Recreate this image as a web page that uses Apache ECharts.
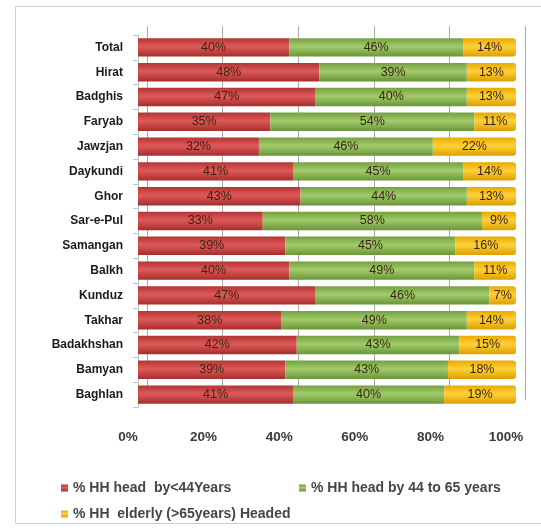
<!DOCTYPE html>
<html><head><meta charset="utf-8">
<script src="https://cdn.jsdelivr.net/npm/echarts@6/dist/echarts.min.js"></script>
<style>html,body{margin:0;padding:0;background:#fff}#c{width:541px;height:531px}</style>
</head><body><div id="c"></div>
<script>
const categories = ["Total","Hirat","Badghis","Faryab","Jawzjan","Daykundi","Ghor","Sar-e-Pul","Samangan","Balkh","Kunduz","Takhar","Badakhshan","Bamyan","Baghlan"];
const under44 = [40,48,47,35,32,41,43,33,39,40,47,38,42,39,41];
const from44to65 = [46,39,40,54,46,45,44,58,45,49,46,49,43,43,40];
const elderly = [14,13,13,11,22,14,13,9,16,11,7,14,15,18,19];
const seriesNames = ["% HH head  by<44Years","% HH head by 44 to 65 years","% HH  elderly (>65years) Headed"];
const tickLabels = ["0%","20%","40%","60%","80%","100%"];

const font = "'Liberation Sans', Arial, sans-serif";
function grad(edge, mid, edge2){
  return new echarts.graphic.LinearGradient(0,0,0,1,[
    {offset:0,color:edge},{offset:0.45,color:mid},{offset:1,color:edge2}]);
}
const cats = categories.slice().reverse();
const rev = a => a.slice().reverse();
const lbl = {show:true,position:'inside',formatter:'{c}%',color:'#3a2414',fontSize:12.5,fontFamily:font};
const legText = {color:'#44444f',fontSize:14,fontWeight:'bold',fontFamily:font};

const chart = echarts.init(document.getElementById('c'),null,{renderer:'canvas'});
chart.setOption({
  backgroundColor:'#fff',
  animation:false,
  graphic:[{type:'rect',shape:{x:15.5,y:6.5,width:540,height:517},style:{fill:'none',stroke:'#d0d0d0',lineWidth:1},z:-10}],
  grid:[
    {left:147,right:16,top:26,bottom:131},   // back wall
    {left:138,right:25,top:35,bottom:124},   // bars
    {left:128,right:35,top:35,bottom:113}    // axis labels
  ],
  xAxis:[
    {gridIndex:0,type:'value',min:0,max:100,interval:20,axisLabel:{show:false},axisLine:{show:false},axisTick:{show:false},
     splitLine:{show:true,lineStyle:{color:'#a8a8a8',width:1}}},
    {gridIndex:1,type:'value',min:0,max:100,interval:20,axisLabel:{show:false},axisLine:{show:false},axisTick:{show:false},splitLine:{show:false}},
    {gridIndex:2,type:'value',min:0,max:100,interval:20,axisLine:{show:false},axisTick:{show:false},splitLine:{show:false},
     axisLabel:{color:'#3a3a3a',fontSize:13.5,fontWeight:'bold',fontFamily:font,margin:12,formatter:(v,i)=>tickLabels[i]}}
  ],
  yAxis:[
    {gridIndex:0,type:'category',data:cats,show:false},
    {gridIndex:1,type:'category',data:cats,offset:5,
     axisLine:{show:true,lineStyle:{color:'#b8c8c8'}},axisTick:{show:true,lineStyle:{color:'#b8c8c8'}},
     axisLabel:{color:'#1a1a1a',fontSize:12,fontWeight:'bold',fontFamily:font,margin:10}},
    {gridIndex:2,type:'category',data:cats,show:false}
  ],
  legend:[
    {data:[seriesNames[0]],left:56,top:476,icon:'rect',itemWidth:7,itemHeight:7,itemGap:0,textStyle:legText},
    {data:[seriesNames[1]],left:294,top:476,icon:'rect',itemWidth:7,itemHeight:7,itemGap:0,textStyle:legText},
    {data:[seriesNames[2]],left:56,top:502,icon:'rect',itemWidth:7,itemHeight:7,itemGap:0,textStyle:legText}
  ],
  series:[
    {name:seriesNames[0],type:'bar',stack:'s',xAxisIndex:1,yAxisIndex:1,barWidth:'74%',data:rev(under44),label:lbl,
     itemStyle:{color:grad('#b33535','#de5a58','#a52e2e')}},
    {name:seriesNames[1],type:'bar',stack:'s',xAxisIndex:1,yAxisIndex:1,barWidth:'74%',data:rev(from44to65),label:lbl,
     itemStyle:{color:grad('#74a040','#a2cc6c','#6a9638')}},
    {name:seriesNames[2],type:'bar',stack:'s',xAxisIndex:1,yAxisIndex:1,barWidth:'74%',data:rev(elderly),label:lbl,
     itemStyle:{color:grad('#e8aa00','#ffd03a','#dca000'),borderRadius:[0,3,3,0]}}
  ]
});
</script></body></html>
